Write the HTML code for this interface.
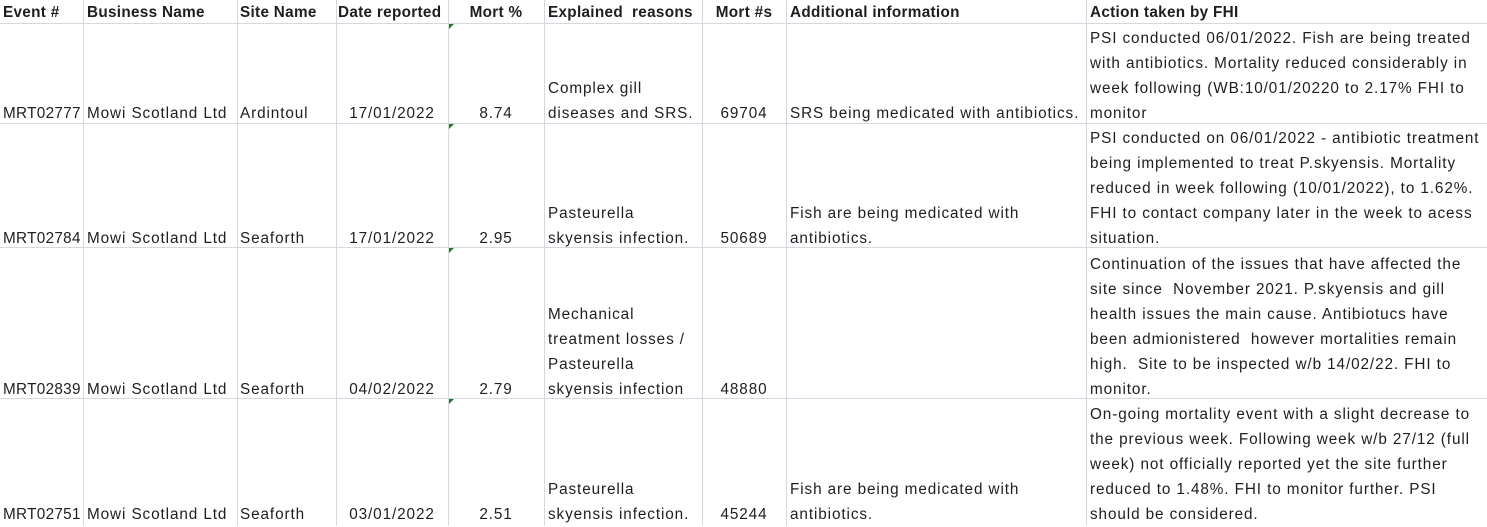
<!DOCTYPE html>
<html><head><meta charset="utf-8"><style>
html,body{margin:0;padding:0;background:#fff;}
body{width:1487px;height:526px;position:relative;overflow:hidden;font-family:"Liberation Sans",sans-serif;font-size:15.3px;color:#1e1e1e;letter-spacing:0.9px;}
.v{position:absolute;top:0;width:1px;height:526px;background:#d5d8de;}
.h{position:absolute;left:0;width:1487px;height:1px;background:#d5d8de;}
.c{position:absolute;white-space:nowrap;line-height:25px;margin-top:3px;}
.hd{font-weight:bold;top:0;line-height:23px;margin-top:1px;letter-spacing:0.3px;}
.e{letter-spacing:0.3px;}
.tri{position:absolute;left:449px;width:0;height:0;border-top:5px solid #1f7a1f;border-right:5px solid transparent;}
</style></head><body>
<div class="v" style="left:83px"></div>
<div class="v" style="left:237px"></div>
<div class="v" style="left:336px"></div>
<div class="v" style="left:448px"></div>
<div class="v" style="left:544px"></div>
<div class="v" style="left:702px"></div>
<div class="v" style="left:786px"></div>
<div class="v" style="left:1086px"></div>
<div class="h" style="top:23px"></div>
<div class="h" style="top:123px"></div>
<div class="h" style="top:247px"></div>
<div class="h" style="top:398px"></div>
<div class="tri" style="top:24px"></div>
<div class="tri" style="top:124px"></div>
<div class="tri" style="top:248px"></div>
<div class="tri" style="top:399px"></div>

<div class="c hd" style="left:3px">Event #</div>
<div class="c hd" style="left:87px">Business Name</div>
<div class="c hd" style="left:240px">Site Name</div>
<div class="c hd" style="left:338px">Date reported</div>
<div class="c hd" style="left:448px;width:96px;text-align:center">Mort %</div>
<div class="c hd" style="left:548px">Explained&nbsp; reasons</div>
<div class="c hd" style="left:702px;width:84px;text-align:center">Mort #s</div>
<div class="c hd" style="left:790px">Additional information</div>
<div class="c hd" style="left:1090px">Action taken by FHI</div>

<div class="c e" style="left:3px;top:98px">MRT02777</div>
<div class="c" style="left:87px;top:98px">Mowi Scotland Ltd</div>
<div class="c" style="left:240px;top:98px">Ardintoul</div>
<div class="c" style="left:336px;width:112px;text-align:center;top:98px">17/01/2022</div>
<div class="c" style="left:448px;width:96px;text-align:center;top:98px">8.74</div>
<div class="c" style="left:548px;top:73px">Complex gill<br>diseases and SRS.</div>
<div class="c" style="left:702px;width:84px;text-align:center;top:98px">69704</div>
<div class="c" style="left:790px;top:98px">SRS being medicated with antibiotics.</div>
<div class="c" style="left:1090px;top:23px">PSI conducted 06/01/2022. Fish are being treated<br>with antibiotics. Mortality reduced considerably in<br>week following (WB:10/01/20220 to 2.17% FHI to<br>monitor</div>

<div class="c e" style="left:3px;top:223px">MRT02784</div>
<div class="c" style="left:87px;top:223px">Mowi Scotland Ltd</div>
<div class="c" style="left:240px;top:223px">Seaforth</div>
<div class="c" style="left:336px;width:112px;text-align:center;top:223px">17/01/2022</div>
<div class="c" style="left:448px;width:96px;text-align:center;top:223px">2.95</div>
<div class="c" style="left:548px;top:198px">Pasteurella<br>skyensis infection.</div>
<div class="c" style="left:702px;width:84px;text-align:center;top:223px">50689</div>
<div class="c" style="left:790px;top:198px">Fish are being medicated with<br>antibiotics.</div>
<div class="c" style="left:1090px;top:123px">PSI conducted on 06/01/2022 - antibiotic treatment<br>being implemented to treat P.skyensis. Mortality<br>reduced in week following (10/01/2022), to 1.62%.<br>FHI to contact company later in the week to acess<br>situation.</div>

<div class="c e" style="left:3px;top:374px">MRT02839</div>
<div class="c" style="left:87px;top:374px">Mowi Scotland Ltd</div>
<div class="c" style="left:240px;top:374px">Seaforth</div>
<div class="c" style="left:336px;width:112px;text-align:center;top:374px">04/02/2022</div>
<div class="c" style="left:448px;width:96px;text-align:center;top:374px">2.79</div>
<div class="c" style="left:548px;top:299px">Mechanical<br>treatment losses /<br>Pasteurella<br>skyensis infection</div>
<div class="c" style="left:702px;width:84px;text-align:center;top:374px">48880</div>
<div class="c" style="left:1090px;top:249px">Continuation of the issues that have affected the<br>site since&nbsp; November 2021. P.skyensis and gill<br>health issues the main cause. Antibiotucs have<br>been admionistered&nbsp; however mortalities remain<br>high.&nbsp; Site to be inspected w/b 14/02/22. FHI to<br>monitor.</div>

<div class="c e" style="left:3px;top:499px">MRT02751</div>
<div class="c" style="left:87px;top:499px">Mowi Scotland Ltd</div>
<div class="c" style="left:240px;top:499px">Seaforth</div>
<div class="c" style="left:336px;width:112px;text-align:center;top:499px">03/01/2022</div>
<div class="c" style="left:448px;width:96px;text-align:center;top:499px">2.51</div>
<div class="c" style="left:548px;top:474px">Pasteurella<br>skyensis infection.</div>
<div class="c" style="left:702px;width:84px;text-align:center;top:499px">45244</div>
<div class="c" style="left:790px;top:474px">Fish are being medicated with<br>antibiotics.</div>
<div class="c" style="left:1090px;top:399px">On-going mortality event with a slight decrease to<br>the previous week. Following week w/b 27/12 (full<br>week) not officially reported yet the site further<br>reduced to 1.48%. FHI to monitor further. PSI<br>should be considered.</div>
</body></html>
